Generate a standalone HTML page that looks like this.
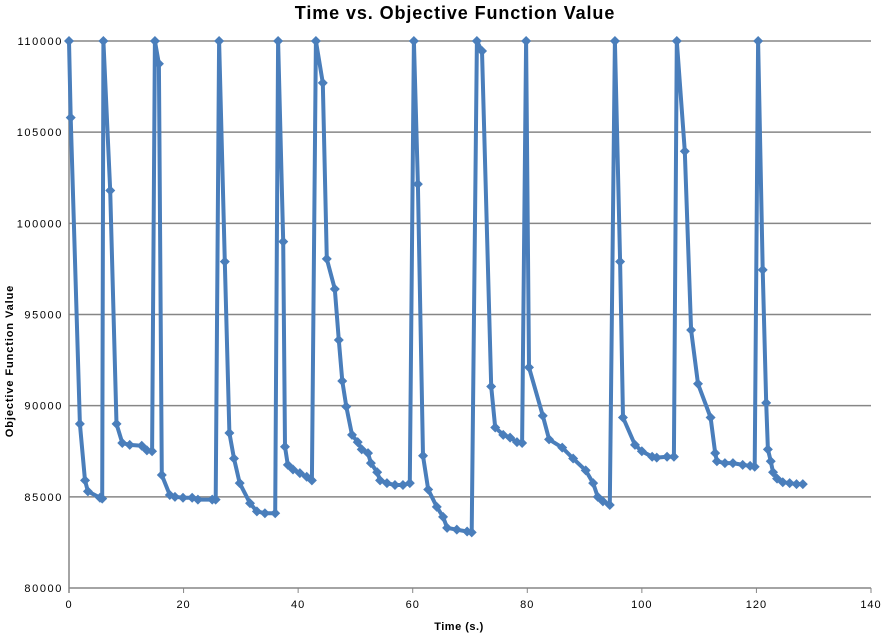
<!DOCTYPE html>
<html><head><meta charset="utf-8"><style>
body{margin:0;background:#fff;}
svg{display:block;font-family:"Liberation Sans",sans-serif;}
</style></head><body>
<svg id="chart" width="888" height="640">
<text x="455" y="19" text-anchor="middle" font-size="18" font-weight="bold" letter-spacing="0.9">Time vs. Objective Function Value</text>
<g id="grid"></g><g id="axes"></g><g id="series"></g>
<text x="459" y="630" text-anchor="middle" font-size="11" font-weight="bold" letter-spacing="0.5">Time (s.)</text>
<text transform="translate(13,361) rotate(-90)" text-anchor="middle" font-size="11" font-weight="bold" letter-spacing="0.9">Objective Function Value</text>
</svg>
<script>
const times=[0,0.3,1.9,2.8,3.3,5.4,5.8,6.0,7.2,8.3,9.3,10.6,12.7,13.6,14.5,15.0,15.7,16.2,17.6,18.5,19.9,21.5,22.5,25.0,25.6,26.2,27.2,28.0,28.8,29.8,31.6,32.8,34.2,36.0,36.5,37.4,37.7,38.2,39.1,40.3,41.5,42.4,43.1,44.3,45.0,46.4,47.1,47.7,48.4,49.4,50.4,51.1,52.2,52.7,53.8,54.3,55.5,56.9,58.3,59.5,60.2,60.9,61.8,62.7,64.2,65.3,66.0,67.7,69.5,70.3,71.2,72.1,73.7,74.4,75.8,77.0,78.2,79.1,79.8,80.3,82.7,83.8,86.1,88.0,90.2,91.5,92.3,93.2,94.4,95.3,96.2,96.7,98.8,100.0,101.8,102.6,104.4,105.6,106.1,107.5,108.6,109.8,112.0,112.8,113.1,114.5,115.9,117.6,118.9,119.7,120.3,121.1,121.7,122.0,122.5,122.9,123.6,124.6,125.8,127.0,128.1];
const values=[110000,105800,89000,85900,85300,84950,84900,110000,101800,89000,87950,87850,87800,87550,87500,110000,108750,86200,85100,85000,84950,84950,84850,84850,84850,110000,97900,88500,87100,85750,84650,84200,84100,84100,110000,99000,87750,86750,86500,86300,86100,85900,110000,107700,98050,96400,93600,91350,89950,88400,88000,87600,87400,86850,86350,85900,85750,85650,85650,85750,110000,102150,87250,85400,84450,83900,83300,83200,83100,83050,110000,109450,91050,88800,88400,88250,88000,87950,110000,92100,89450,88150,87700,87100,86450,85750,85000,84750,84550,110000,97900,89350,87850,87500,87200,87150,87200,87200,110000,103950,94150,91200,89350,87400,86950,86850,86850,86750,86700,86650,110000,97450,90150,87600,86950,86350,86000,85800,85750,85700,85700];
const xTicks=[0,20,40,60,80,100,120,140];
const yTicks=[80000,85000,90000,95000,100000,105000,110000];
const NS="http://www.w3.org/2000/svg";
const X0=69,X1=871,Y0=588,Y1=41;
function xs(t){return X0+(t-0)/(140-0)*(X1-X0);}
function ys(v){return Y0-(v-80000)/(110000-80000)*(Y0-Y1);}
function mk(tag,attrs,parent){const e=document.createElementNS(NS,tag);for(const k in attrs)e.setAttribute(k,attrs[k]);parent.appendChild(e);return e;}
const grid=document.getElementById('grid'),axes=document.getElementById('axes'),ser=document.getElementById('series');
yTicks.forEach(v=>{
 if(v>80000){const l=mk('line',{x1:X0,x2:X1,y1:ys(v),y2:ys(v),stroke:'#868686','stroke-width':1.5},grid);
 
 }
 const t=mk('text',{x:X0-6,y:ys(v)+4,'text-anchor':'end','font-size':11,'letter-spacing':1.6},axes);t.textContent=v;
 
 
});
const ax=mk('line',{x1:X0,x2:X1,y1:Y0,y2:Y0,stroke:'#868686','stroke-width':1.5},axes);


const ay=mk('line',{x1:X0,x2:X0,y1:Y1,y2:Y0+5,stroke:'#868686','stroke-width':1.5},axes);


xTicks.forEach(t=>{
 const tk=mk('line',{x1:xs(t),x2:xs(t),y1:Y0,y2:Y0+5,stroke:'#868686','stroke-width':1},axes);
 
 
 const tx=mk('text',{x:xs(t),y:Y0+20,'text-anchor':'middle','font-size':11,'letter-spacing':1},axes);tx.textContent=t;
 
 
});
const pts=times.map((t,i)=>xs(t).toFixed(1)+','+ys(values[i]).toFixed(1)).join(' ');
const pl=mk('polyline',{points:pts,fill:'none',stroke:'#4a7ebb','stroke-width':4,'stroke-linejoin':'round'},ser);


times.forEach((t,i)=>{
 const x=xs(t),y=ys(values[i]);
 const p=mk('polygon',{points:`${x},${y-5} ${x+5},${y} ${x},${y+5} ${x-5},${y}`,fill:'#4a7ebb'},ser);
 
 
});
</script>
</body></html>
